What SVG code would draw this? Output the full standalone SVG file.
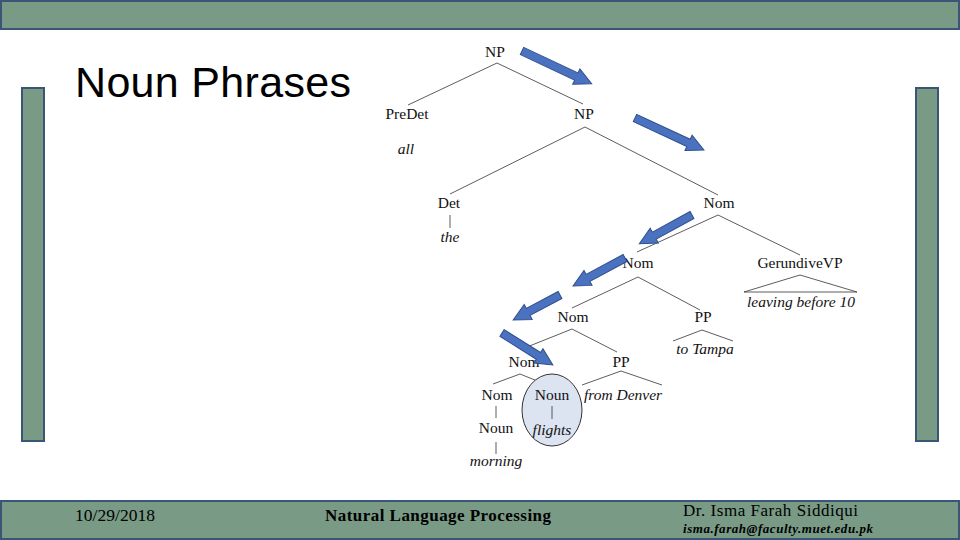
<svg xmlns="http://www.w3.org/2000/svg" width="960" height="540" viewBox="0 0 960 540">
<style>
.bar{fill:#799a85;stroke:#3b5577;stroke-width:2}
.t{font-family:"Liberation Serif","Times New Roman",serif;font-size:15.5px;fill:#111;text-anchor:middle}
.i{font-style:italic}
.e{stroke:#333;stroke-width:0.8;fill:none}
.arr{fill:#4a72c0;stroke:#2f4f8a;stroke-width:1}
.ft{font-family:"Liberation Serif","Times New Roman",serif;fill:#000}
</style>
<rect width="960" height="540" fill="#fff"/>
<g id="frame">
<rect class="bar" x="1" y="1" width="958" height="28"/>
<rect class="bar" x="1" y="501" width="958" height="38"/>
<rect class="bar" x="22" y="88" width="22" height="353"/>
<rect class="bar" x="916" y="88" width="22" height="353"/>
</g>
<text id="title" x="75" y="97" font-family="Liberation Sans, Arial, sans-serif" font-size="43" textLength="276" fill="#000">Noun Phrases</text>
<g id="footer">
<text class="ft" x="75" y="521" font-size="17.5" textLength="80">10/29/2018</text>
<text class="ft" x="325" y="521" font-size="17" font-weight="bold" textLength="226">Natural Language Processing</text>
<text class="ft" x="683" y="516" font-size="17" textLength="175">Dr. Isma Farah Siddiqui</text>
<text class="ft" x="683" y="533" font-size="13" font-weight="bold" font-style="italic" textLength="190">isma.farah@faculty.muet.edu.pk</text>
</g>
<g id="connectors">
<path class="e" d="M497,63 L408,105 M497,63 L583,104"/>
<path class="e" d="M585,127 L450,194 M585,127 L718,195"/>
<path class="e" d="M450,215 L450,228"/>
<path class="e" d="M718,215 L637,252 M718,215 L800,255"/>
<path class="e" d="M800,275 L744,292 L857,292 Z"/>
<path class="e" d="M638,277 L572,308 M638,277 L700,310"/>
<path class="e" d="M572,329 L527,347 M572,329 L617,352"/>
<path class="e" d="M673,341 L702,330 L733,341"/>
<path class="e" d="M582,385 L621,371 L662,385"/>
<path class="e" d="M520,374 L493,384 M520,374 L557,389"/>
<path class="e" d="M496,406 L496,418 M496,442 L496,454"/>
</g>
<g id="n-np1"><text class="t" x="495" y="57">NP</text></g>
<g id="n-predet"><text class="t" x="407" y="119">PreDet</text><text class="t i" x="406" y="154">all</text></g>
<g id="n-np2"><text class="t" x="584" y="119">NP</text></g>
<g id="n-det"><text class="t" x="449" y="208">Det</text><text class="t i" x="450" y="242">the</text></g>
<g id="n-nom1"><text class="t" x="719" y="208">Nom</text></g>
<g id="n-nom2"><text class="t" x="638" y="268">Nom</text></g>
<g id="n-gerundive"><text class="t" x="800" y="268">GerundiveVP</text><text class="t i" x="801" y="307">leaving before 10</text></g>
<g id="n-nom3"><text class="t" x="573" y="322">Nom</text></g>
<g id="n-pp1"><text class="t" x="703" y="322">PP</text><text class="t i" x="705" y="354">to Tampa</text></g>
<g id="n-nom4"><text class="t" x="524" y="367">Nom</text></g>
<g id="n-pp2"><text class="t" x="621" y="367">PP</text><text class="t i" x="623" y="400">from Denver</text></g>
<g id="n-nom5"><text class="t" x="497" y="400">Nom</text><text class="t" x="496" y="433">Noun</text><text class="t i" x="496" y="466">morning</text></g>
<g id="n-noun">
<ellipse cx="552" cy="410" rx="30" ry="36" fill="#dce3f1" stroke="#333" stroke-width="1"/>
<path class="e" d="M552,406 L552,419"/>
<text class="t" x="552" y="400">Noun</text>
<text class="t i" x="552" y="435">flights</text>
</g>
<g id="arrows">
<path class="arr" transform="translate(522,51) rotate(25.2)" d="M0,-4 L60,-4 L60,-8.5 L77,0 L60,8.5 L60,4 L0,4 Z"/>
<path class="arr" transform="translate(635,118) rotate(24.9)" d="M0,-4 L59,-4 L59,-8.5 L76,0 L59,8.5 L59,4 L0,4 Z"/>
<path class="arr" transform="translate(692,215) rotate(151.3)" d="M0,-4 L43,-4 L43,-8.5 L60,0 L43,8.5 L43,4 L0,4 Z"/>
<path class="arr" transform="translate(625,258) rotate(151.7)" d="M0,-4 L42,-4 L42,-8.5 L59,0 L42,8.5 L42,4 L0,4 Z"/>
<path class="arr" transform="translate(560,295) rotate(152)" d="M0,-4 L36,-4 L36,-8.5 L53,0 L36,8.5 L36,4 L0,4 Z"/>
<path class="arr" transform="translate(502,333) rotate(32.1)" d="M0,-4 L43,-4 L43,-8.5 L60,0 L43,8.5 L43,4 L0,4 Z"/>
</g>
</svg>
